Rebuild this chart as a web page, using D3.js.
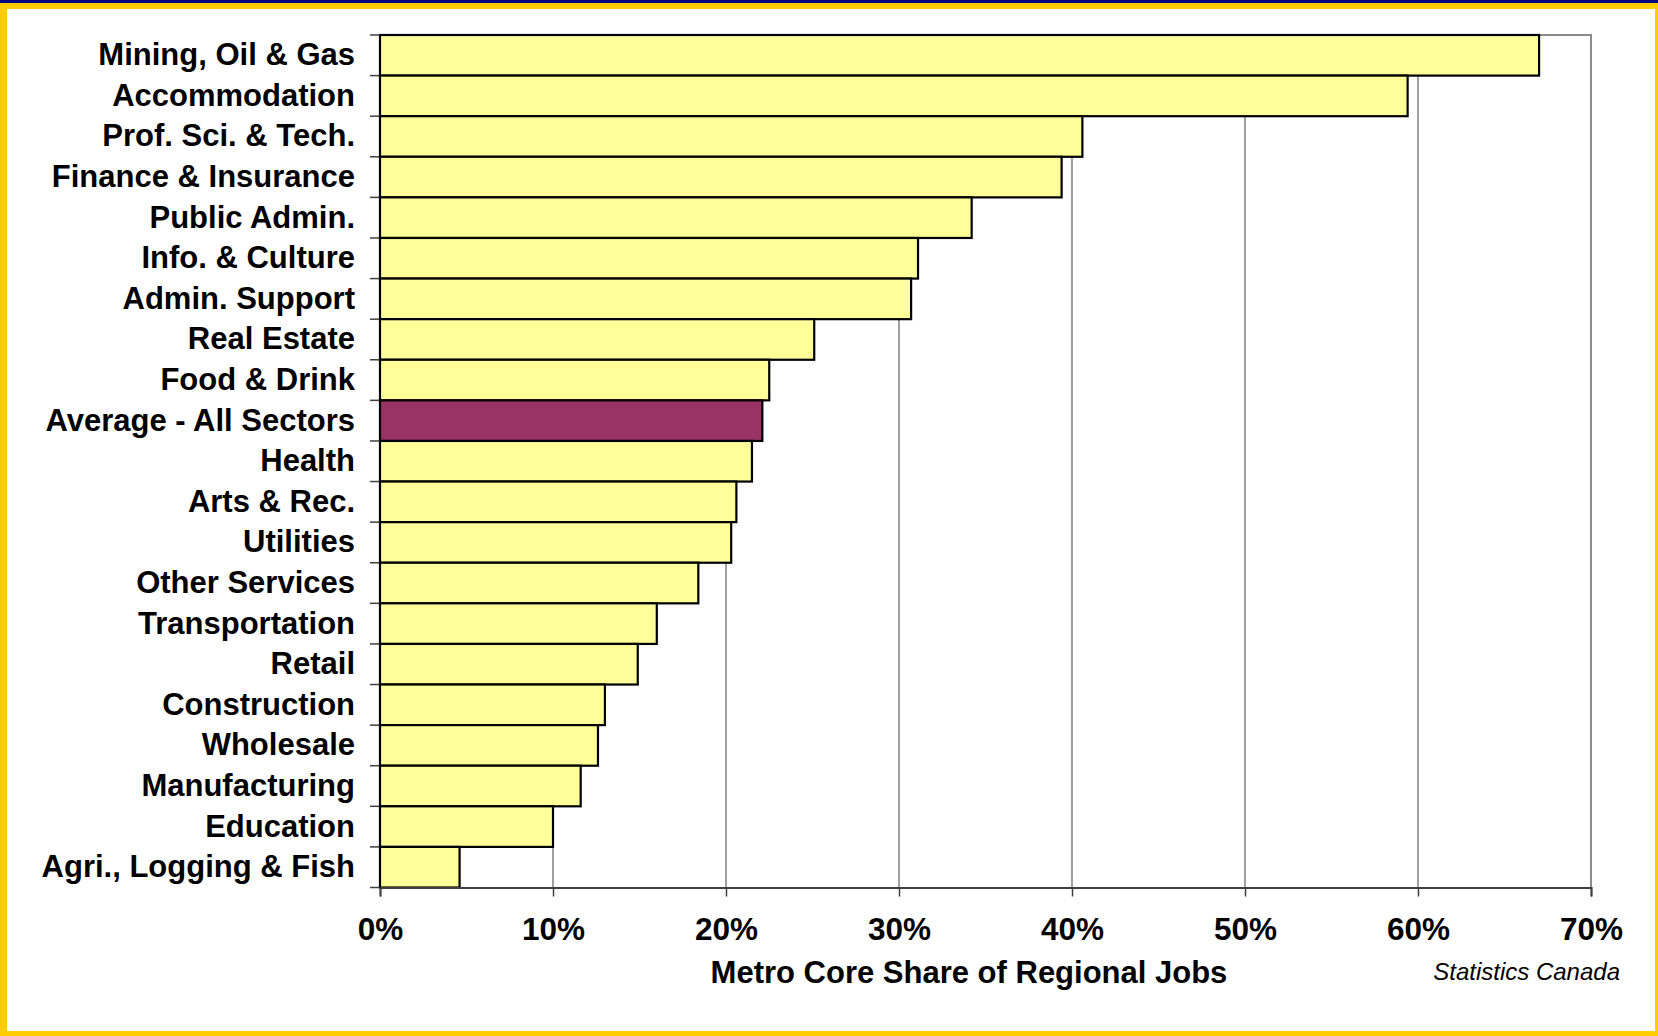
<!DOCTYPE html>
<html>
<head>
<meta charset="utf-8">
<script src="https://cdn.jsdelivr.net/npm/d3@7"></script>
<style>
  html, body { margin: 0; padding: 0; background: #ffffff; }
  svg { display: block; }
  text { font-family: "Liberation Sans", Arial, sans-serif; }
</style>
</head>
<body>
<svg id="chart" width="1658" height="1036"></svg>
<script>
// Sectors, top to bottom
const sectors = [
  "Mining, Oil & Gas", "Accommodation", "Prof. Sci. & Tech.", "Finance & Insurance",
  "Public Admin.", "Info. & Culture", "Admin. Support", "Real Estate", "Food & Drink",
  "Average - All Sectors", "Health", "Arts & Rec.", "Utilities", "Other Services",
  "Transportation", "Retail", "Construction", "Wholesale", "Manufacturing",
  "Education", "Agri., Logging & Fish"
];
// Metro core share of regional jobs (fraction)
const shares = [
  0.670, 0.594, 0.406, 0.394, 0.342, 0.311, 0.307, 0.251, 0.225,
  0.221, 0.215, 0.206, 0.203, 0.184, 0.160, 0.149, 0.130, 0.126,
  0.116, 0.100, 0.046
];
const highlighted = "Average - All Sectors";
const xTicks = [0, 0.1, 0.2, 0.3, 0.4, 0.5, 0.6, 0.7];
const xTitle = "Metro Core Share of Regional Jobs";
const sourceNote = "Statistics Canada";

const W = 1658, H = 1036;
const plot = { left: 380, right: 1591, top: 35, bottom: 887.5 };

const svg = d3.select("#chart");

// Frame: navy strip with gold border
svg.append("rect").attr("x", 0).attr("y", 0).attr("width", W).attr("height", H).attr("fill", "#ffcc00");
svg.append("rect").attr("x", 0).attr("y", 0).attr("width", W).attr("height", 3).attr("fill", "#000080");
svg.append("rect").attr("x", 7).attr("y", 9).attr("width", W - 7 - 3).attr("height", H - 9 - 5).attr("fill", "#ffffff");

const x = d3.scaleLinear().domain([0, 0.7]).range([plot.left, plot.right]);
const y = d3.scaleBand().domain(sectors).range([plot.top, plot.bottom]).padding(0);

// Vertical gridlines
svg.append("g").selectAll("line")
  .data(xTicks.filter(t => t > 0 && t < 0.7))
  .join("line")
  .attr("x1", d => x(d)).attr("x2", d => x(d))
  .attr("y1", plot.top).attr("y2", plot.bottom)
  .attr("stroke", "#606060").attr("stroke-width", 1.2);

// Plot border (top and right)
svg.append("path")
  .attr("d", `M${plot.left},${plot.top}H${plot.right}V${plot.bottom}`)
  .attr("fill", "none").attr("stroke", "#8c8c8c").attr("stroke-width", 2);

// Bars
const data = sectors.map((s, i) => ({ sector: s, value: shares[i] }));
svg.append("g").selectAll("rect")
  .data(data)
  .join("rect")
  .attr("x", x(0))
  .attr("y", d => y(d.sector))
  .attr("width", d => x(d.value) - x(0))
  .attr("height", y.bandwidth())
  .attr("fill", d => d.sector === highlighted ? "#993366" : "#ffff99")
  .attr("stroke", "#000000")
  .attr("stroke-width", 2.2);

// Bottom axis
const xAxis = d3.axisBottom(x)
  .tickValues(xTicks)
  .tickFormat(d3.format(".0%"))
  .tickSize(9)
  .tickPadding(21);
const gx = svg.append("g").attr("transform", `translate(0,${plot.bottom})`).call(xAxis);
gx.select(".domain").attr("stroke", "#404040").attr("stroke-width", 2);
gx.selectAll(".tick line").attr("stroke", "#404040").attr("stroke-width", 1.5);
gx.selectAll(".tick text")
  .attr("fill", "#000")
  .style("font-size", "31.5px")
  .style("font-weight", "bold");

// Left axis: category labels
const yAxis = d3.axisLeft(y).tickSize(0).tickPadding(25);
const gy = svg.append("g").attr("transform", `translate(${plot.left},0)`).call(yAxis);
gy.select(".domain").remove();
gy.selectAll(".tick text")
  .attr("fill", "#000")
  .style("font-size", "31px")
  .style("font-weight", "bold");

// Category boundary ticks and axis line
const bounds = sectors.map(s => y(s)).concat([plot.bottom]);
svg.append("g").selectAll("line")
  .data(bounds)
  .join("line")
  .attr("x1", plot.left - 10).attr("x2", plot.left)
  .attr("y1", d => d).attr("y2", d => d)
  .attr("stroke", "#404040").attr("stroke-width", 1.5);
svg.append("line")
  .attr("x1", plot.left).attr("x2", plot.left)
  .attr("y1", plot.top).attr("y2", plot.bottom)
  .attr("stroke", "#000").attr("stroke-width", 2);

// Axis title
svg.append("text")
  .attr("x", 969).attr("y", 983)
  .attr("text-anchor", "middle")
  .style("font-size", "31px").style("font-weight", "bold")
  .text(xTitle);

// Source note
svg.append("text")
  .attr("x", 1620).attr("y", 980)
  .attr("text-anchor", "end")
  .style("font-size", "24px").style("font-style", "italic")
  .text(sourceNote);
</script>
</body>
</html>
